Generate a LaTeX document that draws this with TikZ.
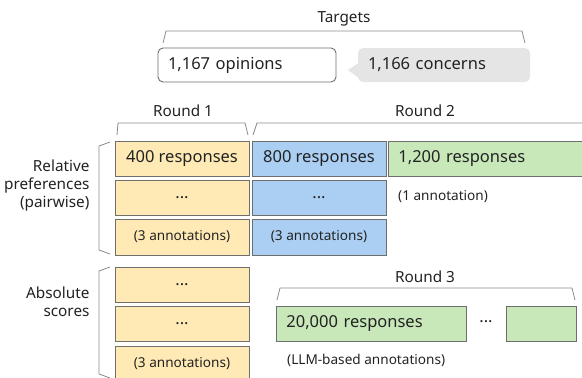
\documentclass[tikz,border=0pt]{standalone}
\usepackage{fontspec}
\setmainfont{Noto Sans}
\definecolor{ink}{HTML}{222222}
\definecolor{edge}{HTML}{6E6E6E}
\definecolor{brk}{HTML}{8A8A8A}
\definecolor{yel}{HTML}{FFEAB6}
\definecolor{blu}{HTML}{ABCFF2}
\definecolor{grn}{HTML}{C8E8BA}
\definecolor{gry}{HTML}{E5E5E5}
\tikzset{
  big/.style={font=\fontsize{16.5}{19}\selectfont, text=ink},
  small/.style={font=\fontsize{13.6}{16}\selectfont, text=ink},
  lab/.style={font=\fontsize{15.3}{18}\selectfont, text=ink},
  cell/.style={draw=edge, line width=0.9pt, minimum width=134pt, minimum height=35pt, inner sep=0pt},
  ycell/.style={cell, fill=yel},
  bcell/.style={cell, fill=blu},
  gcell/.style={draw=edge, line width=0.9pt, fill=grn, minimum height=35pt, inner ysep=0pt, inner xsep=10pt, align=left},
  bracket/.style={draw=brk, line width=0.8pt},
}
\begin{document}
\begin{tikzpicture}[x=1pt, y=-1pt]
\useasboundingbox (0,0) rectangle (582,378);
\clip (0,0) rectangle (582,378);
% Targets
\node[lab] (targets) at (344,19) {Targets};
\draw[bracket] (163,43) -- (166,31) -- (522,31) -- (525,43);
\node[draw=edge, line width=0.9pt, fill=white, rounded corners=5pt, minimum height=34pt, inner ysep=0pt, inner xsep=10pt, text width=158pt, align=left, big] (opin) at (247,65) {1,167 opinions};
\fill[gry] (360,62) -- (348,70) -- (364,82) -- cycle;
\node[fill=gry, rounded corners=5pt, minimum height=34pt, inner ysep=0pt, inner xsep=10pt, text width=152pt, align=left, big] (conc) at (444,65) {1,166 concerns};
% Round labels
\node[lab] (round1) at (183,111) {Round 1};
\draw[bracket] (117,135) -- (118,123) -- (245,123) -- (248,135);
\node[lab] (round2) at (425,111) {Round 2};
\draw[bracket] (253,135) -- (257,123) -- (600,123);
% left labels
\node[lab, anchor=east, align=right] (rel) at (93,186) {Relative\\preferences\\(pairwise)};
\draw[bracket] (110,142) -- (99,146) -- (99,250) -- (110,254);
\node[lab, anchor=east, align=right] (abs) at (93,302) {Absolute\\scores};
\draw[bracket] (110,267) -- (99,271) -- (99,374) -- (110,378);
% Round 1 relative
\node[ycell, big] (r1a) at (182,158.5) {400 responses};
\node[ycell, big] (r1b) at (182,197.5) {...};
\node[ycell, small, minimum height=36pt] (r1c) at (182,237) {(3 annotations)};
% Round 2 relative
\node[bcell, big] (r2a) at (319,158.5) {800 responses};
\node[bcell, big] (r2b) at (319,197.5) {...};
\node[bcell, small, minimum height=36pt] (r2c) at (319,237) {(3 annotations)};
\node[gcell, big, text width=192pt, anchor=west] (r2g) at (388,158.5) {1,200 responses};
\node[small, anchor=west, inner sep=0pt] (ann1) at (398,197) {(1 annotation)};
% Absolute
\node[ycell, big] (a1) at (182,284.5) {...};
\node[ycell, big] (a2) at (182,324) {...};
\node[ycell, small, minimum height=36pt] (a3) at (182,364) {(3 annotations)};
% Round 3
\node[lab] (round3) at (425,277) {Round 3};
\draw[bracket] (277,300) -- (280,288) -- (572,288) -- (575,300);
\node[gcell, big, text width=170pt, anchor=west] (r3a) at (276,323.5) {20,000 responses};
\node[big] (r3dots) at (486,322) {...};
\node[draw=edge, line width=0.9pt, fill=grn, minimum width=70pt, minimum height=35pt, inner sep=0pt] (r3b) at (541,323.5) {};
\node[small, anchor=west, inner sep=0pt] (llm) at (287,360) {(LLM-based annotations)};
\end{tikzpicture}
\end{document}
